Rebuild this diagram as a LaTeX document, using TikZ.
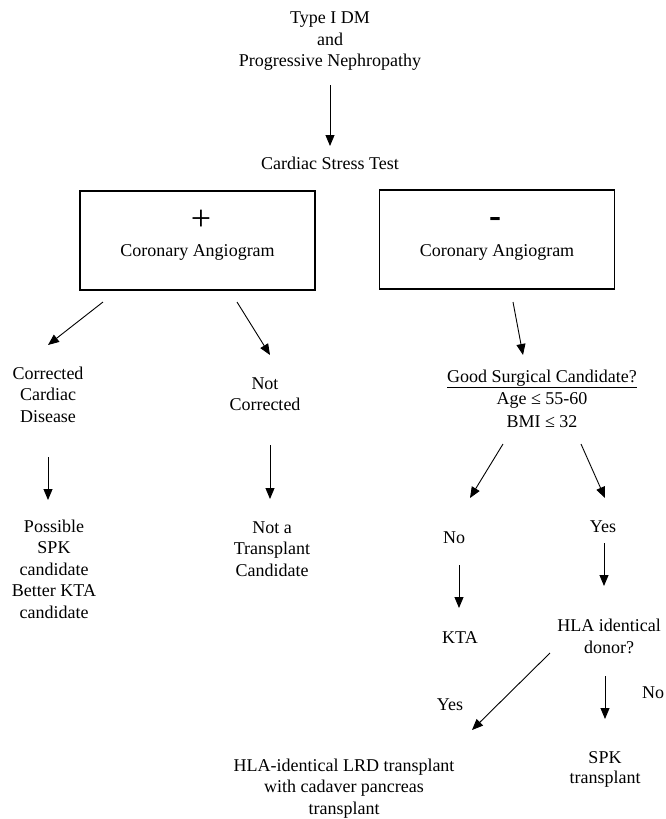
\documentclass[tikz,border=0pt]{standalone}
\usepackage{fontspec}
\setmainfont{Liberation Serif}
\usetikzlibrary{arrows.meta}
\begin{document}
\begin{tikzpicture}[x=1pt,y=-1pt,
  txt/.style={inner sep=0pt,align=center,font=\fontsize{18}{21.5}\selectfont},
  sign/.style={inner sep=0pt,font=\fontsize{36}{36}\selectfont},
  boxn/.style={draw,line width=1.2pt,minimum width=235pt,minimum height=99pt,inner sep=0pt},
  arr/.style={line width=0.9pt,-{Triangle[length=11pt,width=9pt]}}]
\useasboundingbox (0,0) rectangle (666,819);
% nodes
\node[txt] (top) at (330,41.5) {Type I DM\\and\\Progressive Nephropathy};
\node[txt] (stress) at (330,163) {Cardiac Stress Test};
\node[boxn] (boxL) at (197.5,240.5) {};
\node[sign] (plus) at (201,220) {+};
\node[txt] (caL) at (197.5,252) {Coronary Angiogram};
\node[boxn] (boxR) at (497,239.5) {};
\node[sign] (minus) at (495,222) {\textbf{-}};
\node[txt] (caR) at (497,252) {Coronary Angiogram};
\node[txt] (corr) at (48,394.5) {Corrected\\Cardiac\\Disease};
\node[txt] (notc) at (265,394) {Not\\Corrected};
\node[txt,font=\fontsize{18}{22.5}\selectfont] (good) at (542,398.5) {\underline{Good Surgical Candidate?}\\Age ≤ 55-60\\BMI ≤ 32};
\node[txt] (poss) at (54,569) {Possible\\SPK\\candidate\\Better KTA\\candidate};
\node[txt] (nota) at (272,549) {Not a\\Transplant\\Candidate};
\node[txt] (no1) at (454,538) {No};
\node[txt] (yes1) at (603,527) {Yes};
\node[txt] (kta) at (460,638) {KTA};
\node[txt] (hla) at (609,636.5) {HLA identical\\donor?};
\node[txt] (yes2) at (450,705) {Yes};
\node[txt] (no2) at (653,693) {No};
\node[txt] (lrd) at (344,788.5) {HLA-identical LRD transplant\\with cadaver pancreas\\transplant};
\node[txt,font=\fontsize{18}{19.5}\selectfont] (spk) at (605,769.5) {SPK\\transplant};
% arrow end points
\coordinate (a0s) at (330,85);  \coordinate (a0e) at (330,146);
\coordinate (a1s) at (103,302); \coordinate (a1e) at (48,345);
\coordinate (a2s) at (237,302); \coordinate (a2e) at (270,355);
\coordinate (a3s) at (513,302); \coordinate (a3e) at (523,355);
\coordinate (a4s) at (48,457);  \coordinate (a4e) at (48,500);
\coordinate (a5s) at (270,445); \coordinate (a5e) at (270,499);
\coordinate (a6s) at (503,444); \coordinate (a6e) at (470,498);
\coordinate (a7s) at (581,444); \coordinate (a7e) at (605,498);
\coordinate (a8s) at (459,565); \coordinate (a8e) at (459,608);
\coordinate (a9s) at (604,543); \coordinate (a9e) at (604,586);
\coordinate (a10s) at (550,653); \coordinate (a10e) at (472,730);
\coordinate (a11s) at (605,676); \coordinate (a11e) at (605,719);
% connectors
\draw[arr] (a0s) -- (a0e);
\draw[arr] (a1s) -- (a1e);
\draw[arr] (a2s) -- (a2e);
\draw[arr] (a3s) -- (a3e);
\draw[arr] (a4s) -- (a4e);
\draw[arr] (a5s) -- (a5e);
\draw[arr] (a6s) -- (a6e);
\draw[arr] (a7s) -- (a7e);
\draw[arr] (a8s) -- (a8e);
\draw[arr] (a9s) -- (a9e);
\draw[arr] (a10s) -- (a10e);
\draw[arr] (a11s) -- (a11e);
\end{tikzpicture}
\end{document}
